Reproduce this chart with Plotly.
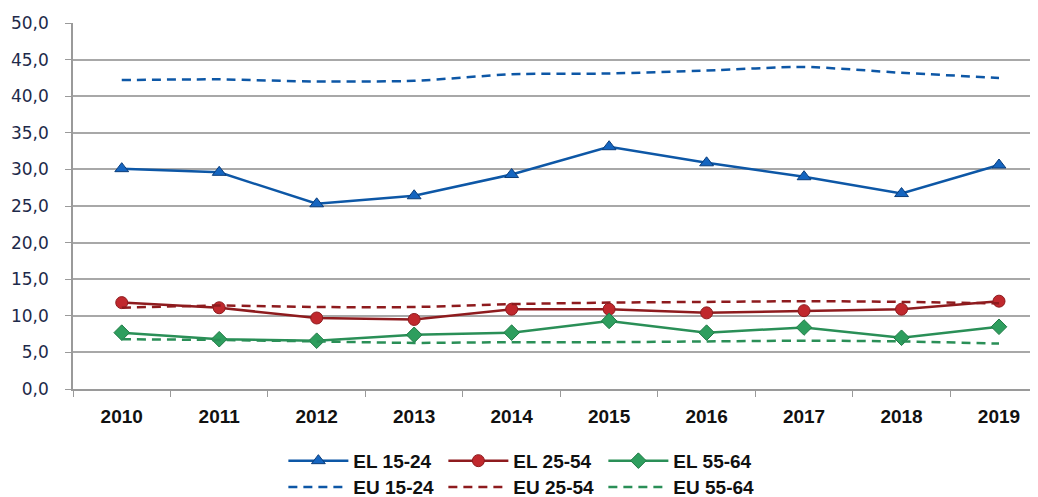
import plotly.graph_objects as go

years = ["2010", "2011", "2012", "2013", "2014", "2015", "2016", "2017", "2018", "2019"]

el_15_24 = [30.1, 29.6, 25.3, 26.4, 29.3, 33.1, 30.9, 29.0, 26.7, 30.6]
el_25_54 = [11.8, 11.1, 9.7, 9.5, 10.9, 10.9, 10.4, 10.7, 10.9, 12.0]
el_55_64 = [7.7, 6.8, 6.6, 7.4, 7.7, 9.3, 7.7, 8.4, 7.0, 8.5]
eu_15_24 = [42.2, 42.3, 42.0, 42.1, 43.0, 43.1, 43.5, 44.0, 43.2, 42.5]
eu_25_54 = [11.1, 11.4, 11.2, 11.2, 11.6, 11.8, 11.9, 12.0, 11.9, 11.7]
eu_55_64 = [6.8, 6.7, 6.5, 6.3, 6.4, 6.4, 6.5, 6.6, 6.5, 6.2]

y_ticks = [0, 5, 10, 15, 20, 25, 30, 35, 40, 45, 50]

blue, red, green = "#0D57A6", "#8E1B1E", "#2A8F57"
font_main = "Liberation Sans, Arial"

fig = go.Figure()

# EL series (solid with markers) -> first legend row
fig.add_trace(go.Scatter(x=years, y=el_15_24, name="<b>EL 15-24</b>", mode="lines+markers",
                         line=dict(color=blue, width=2.5),
                         marker=dict(symbol="triangle-up", size=12, color="#1565C0",
                                     line=dict(color="#0B3D7A", width=1)),
                         legend="legend"))
fig.add_trace(go.Scatter(x=years, y=el_25_54, name="<b>EL 25-54</b>", mode="lines+markers",
                         line=dict(color=red, width=2.5),
                         marker=dict(symbol="circle", size=12, color="#C0282D",
                                     line=dict(color="#8E1B1E", width=1)),
                         legend="legend"))
fig.add_trace(go.Scatter(x=years, y=el_55_64, name="<b>EL 55-64</b>", mode="lines+markers",
                         line=dict(color=green, width=2.5),
                         marker=dict(symbol="diamond", size=12, color="#2E9E5E",
                                     line=dict(color="#1F7A45", width=1)),
                         legend="legend"))

# EU series (dashed) -> second legend row
dash_line = dict(width=2.5, dash="9px,6px", shape="spline", smoothing=0.6)
fig.add_trace(go.Scatter(x=years, y=eu_15_24, name="<b>EU 15-24</b>", mode="lines",
                         line=dict(dash_line, color=blue), legend="legend2"))
fig.add_trace(go.Scatter(x=years, y=eu_25_54, name="<b>EU 25-54</b>", mode="lines",
                         line=dict(dash_line, color=red), legend="legend2"))
fig.add_trace(go.Scatter(x=years, y=eu_55_64, name="<b>EU 55-64</b>", mode="lines",
                         line=dict(dash_line, color=green), legend="legend2"))

# page body adds an 8px offset, so the figure is 8px smaller and margins 8px less
legend_style = dict(orientation="h", xanchor="left", yanchor="middle", x=0.218,
                    xref="paper", yref="container",
                    itemwidth=60, entrywidth=85, entrywidthmode="pixels",
                    bgcolor="rgba(0,0,0,0)", tracegroupgap=0,
                    font=dict(family=font_main, size=19, color="#111111"))

fig.update_layout(
    width=1030, height=489,
    template="plotly_white",
    paper_bgcolor="white", plot_bgcolor="white",
    margin=dict(l=65, r=0, t=15, b=108, autoexpand=False),
    font=dict(family=font_main, color="#222222"),
    showlegend=True,
    legend=dict(legend_style, y=0.074),
    legend2=dict(legend_style, y=0.02),
    xaxis=dict(type="category", range=[-0.5, 9.4], showgrid=False, automargin=False,
               showline=True, linecolor="#9a9a9a", linewidth=1.5,
               ticks="outside", tickson="boundaries", ticklen=6, tickcolor="#9a9a9a",
               tickfont=dict(size=19, color="#111111", family=font_main),
               tickprefix="<b>", ticksuffix="</b>",
               ticklabelstandoff=9),
    yaxis=dict(range=[0, 50], tickvals=y_ticks, tickformat=".1f", automargin=False,
               showgrid=True, gridcolor="#a8a8a8", gridwidth=1.5,
               showline=True, linecolor="#9a9a9a", linewidth=1.5,
               ticks="outside", ticklen=6, tickcolor="#9a9a9a",
               tickfont=dict(size=17, color="#1e2a4a", family="DejaVu Sans"),
               ticklabelstandoff=13, zeroline=False),
    separators=",.",
)

fig.write_html("out.html")
